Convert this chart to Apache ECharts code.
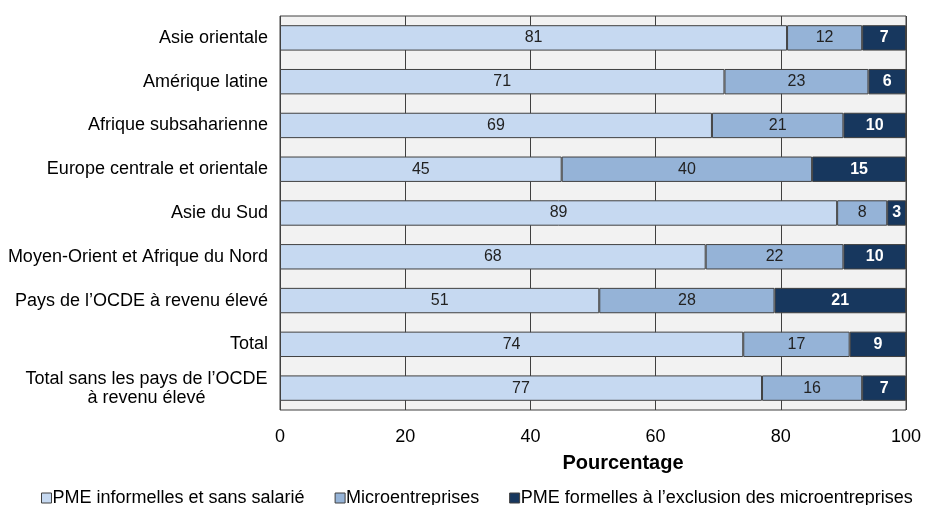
<!DOCTYPE html>
<html>
<head>
<meta charset="utf-8">
<script src="https://cdn.jsdelivr.net/npm/echarts@6/dist/echarts.min.js"></script>
<style>
  html, body { margin: 0; padding: 0; background: #fff; }
  #chart { width: 925px; height: 505px; }
</style>
</head>
<body>
<div id="chart"></div>
<script>
// regions, top to bottom
var categories = [
  'Asie orientale',
  'Amérique latine',
  'Afrique subsaharienne',
  'Europe centrale et orientale',
  'Asie du Sud',
  'Moyen-Orient et Afrique du Nord',
  'Pays de l\u2019OCDE à revenu élevé',
  'Total',
  'Total sans les pays de l\u2019OCDE\nà revenu élevé'
];
var informelles = [81, 71, 69, 45, 89, 68, 51, 74, 77];
var micro = [12, 23, 21, 40, 8, 22, 28, 17, 16];
var formelles = [7, 6, 10, 15, 3, 10, 21, 9, 7];
var xTicks = [0, 20, 40, 60, 80, 100];

var font = '"Liberation Sans", Arial, sans-serif';

function serie(name, data, color, labelColor, bold) {
  return {
    name: name,
    type: 'bar',
    stack: 'all',
    data: data,
    barWidth: '58%',
    itemStyle: { color: color, borderColor: '#404040', borderWidth: 1 },
    label: {
      show: true,
      position: 'inside',
      color: labelColor,
      fontFamily: font,
      fontSize: 16,
      fontWeight: bold ? 'bold' : 'normal'
    }
  };
}

var chart = echarts.init(document.getElementById('chart'));
chart.setOption({
  animation: false,
  backgroundColor: '#fff',
  grid: {
    left: 280, right: 19, top: 16, height: 394,
    show: true, backgroundColor: '#f2f2f2', borderColor: '#404040', borderWidth: 1
  },
  xAxis: {
    type: 'value',
    min: 0, max: 100, interval: 20,
    name: 'Pourcentage',
    nameLocation: 'middle',
    nameGap: 43,
    nameTextStyle: { fontFamily: font, fontSize: 20, fontWeight: 'bold', color: '#000', padding: [0, 0, 0, 60] },
    axisLine: { show: false },
    axisTick: { show: false },
    axisLabel: {
      fontFamily: font, fontSize: 18, color: '#000', margin: 18,
      formatter: function (v) { return xTicks.indexOf(v) >= 0 ? String(v) : ''; }
    },
    splitLine: { show: true, lineStyle: { color: '#404040', width: 1 } }
  },
  yAxis: {
    type: 'category',
    data: categories,
    inverse: true,
    axisLine: { show: false },
    axisTick: { show: false },
    axisLabel: {
      fontFamily: font, fontSize: 18, color: '#000', margin: 12,
      align: 'right', lineHeight: 19,
      formatter: function (v) {
        if (v.indexOf('\n') < 0) return v;
        return v.split('\n').map(function (l) { return '{c|' + l + '}'; }).join('\n');
      },
      rich: {
        c: { fontFamily: font, fontSize: 18, color: '#000', width: 243, align: 'center', lineHeight: 19 }
      }
    }
  },
  legend: {
    top: 484,
    left: 36,
    itemWidth: 10,
    itemHeight: 10,
    itemGap: 30,
    icon: 'rect',
    textStyle: { fontFamily: font, fontSize: 18, color: '#000', padding: [0, 0, 0, -4] },
    data: [
      { name: 'PME informelles et sans salarié', itemStyle: { borderColor: '#404040', borderWidth: 1 } },
      { name: 'Microentreprises', itemStyle: { borderColor: '#404040', borderWidth: 1 } },
      { name: 'PME formelles à l\u2019exclusion des microentreprises', itemStyle: { borderColor: '#404040', borderWidth: 1 } }
    ]
  },
  series: [
    serie('PME informelles et sans salarié', informelles, '#c6d9f1', '#222', false),
    serie('Microentreprises', micro, '#95b3d7', '#222', false),
    serie('PME formelles à l\u2019exclusion des microentreprises', formelles, '#17375e', '#fff', true)
  ]
});
</script>
</body>
</html>
